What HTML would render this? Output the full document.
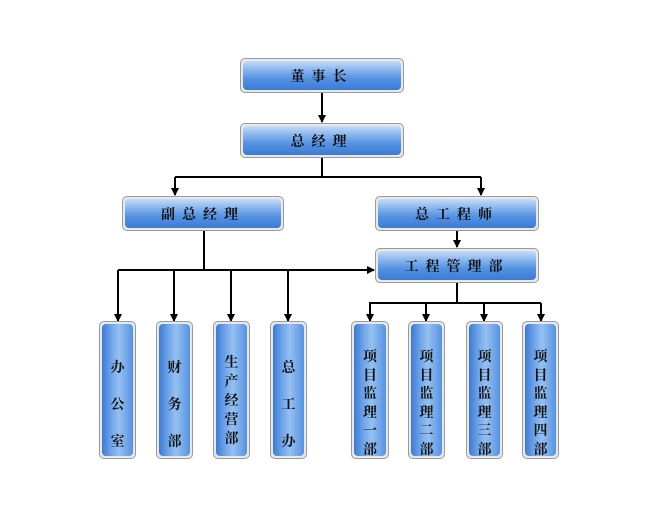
<!DOCTYPE html>
<html><head><meta charset="utf-8"><style>
body{margin:0;width:653px;height:521px;background:#fff;position:relative;overflow:hidden;font-family:"Liberation Serif","Noto Serif CJK SC",serif}
.b{position:absolute;box-sizing:border-box;border:1px solid #9a9a9a;border-radius:5px;background:#e8e8e8;padding:2px}
.b>div{width:100%;height:100%;border-radius:4px;background:linear-gradient(#c4dcf6 0%,#8ab7ee 30%,#5592e2 60%,#3a7bd6 100%);display:flex;align-items:center;justify-content:center;font-weight:bold;color:#111;font-size:14px;letter-spacing:7px;box-sizing:border-box}
.v>div{flex-direction:column;letter-spacing:0;background:linear-gradient(90deg,#3a7bd6 0%,#78abeb 35%,#95c0f1 55%,#5592e2 100%);justify-content:flex-start;font-size:14px;line-height:18.5px}
svg{position:absolute;left:0;top:0}
</style></head><body>
<svg width="653" height="521">
<defs><marker id="a" markerUnits="userSpaceOnUse" markerWidth="8" markerHeight="8" refX="7" refY="4" orient="auto"><path d="M0,0L8,4L0,8z" fill="#000"/></marker></defs>
<g stroke="#000" stroke-width="2" fill="none">
<line x1="322" y1="92" x2="322" y2="122" marker-end="url(#a)"/>
<polyline points="322,157 322,177"/>
<line x1="175" y1="177" x2="481" y2="177"/>
<line x1="175" y1="177" x2="175" y2="195" marker-end="url(#a)"/>
<line x1="481" y1="177" x2="481" y2="195" marker-end="url(#a)"/>
<line x1="457" y1="230" x2="457" y2="247" marker-end="url(#a)"/>
<line x1="204" y1="230" x2="204" y2="270"/>
<line x1="118" y1="270" x2="374" y2="270" marker-end="url(#a)"/>
<line x1="118" y1="270" x2="118" y2="321" marker-end="url(#a)"/>
<line x1="174" y1="270" x2="174" y2="321" marker-end="url(#a)"/>
<line x1="231" y1="270" x2="231" y2="321" marker-end="url(#a)"/>
<line x1="288" y1="270" x2="288" y2="321" marker-end="url(#a)"/>
<line x1="457" y1="282" x2="457" y2="303"/>
<line x1="369" y1="303" x2="541" y2="303"/>
<line x1="370" y1="303" x2="370" y2="321" marker-end="url(#a)"/>
<line x1="426" y1="303" x2="426" y2="321" marker-end="url(#a)"/>
<line x1="484" y1="303" x2="484" y2="321" marker-end="url(#a)"/>
<line x1="541" y1="303" x2="541" y2="321" marker-end="url(#a)"/>
</g></svg>
<div class="b" style="left:240px;top:58px;width:164px;height:35px"><div>董事长</div></div>
<div class="b" style="left:240px;top:123px;width:164px;height:35px"><div>总经理</div></div>
<div class="b" style="left:122px;top:196px;width:162px;height:35px"><div>副总经理</div></div>
<div class="b" style="left:375px;top:196px;width:164px;height:35px"><div>总工程师</div></div>
<div class="b" style="left:375px;top:248px;width:164px;height:35px"><div>工程管理部</div></div>
<div class="b v" style="left:99px;top:321px;width:37px;height:138px"><div style="padding-top:26px;line-height:37px">办<br>公<br>室</div></div>
<div class="b v" style="left:156px;top:321px;width:37px;height:138px"><div style="padding-top:26px;line-height:37px">财<br>务<br>部</div></div>
<div class="b v" style="left:213px;top:321px;width:37px;height:138px"><div style="padding-top:30px;line-height:19px">生<br>产<br>经<br>营<br>部</div></div>
<div class="b v" style="left:270px;top:321px;width:37px;height:138px"><div style="padding-top:26px;line-height:37px">总<br>工<br>办</div></div>
<div class="b v" style="left:351px;top:321px;width:38px;height:138px"><div style="padding-top:25px">项<br>目<br>监<br>理<br>一<br>部</div></div>
<div class="b v" style="left:408px;top:321px;width:37px;height:138px"><div style="padding-top:25px">项<br>目<br>监<br>理<br>二<br>部</div></div>
<div class="b v" style="left:466px;top:321px;width:37px;height:138px"><div style="padding-top:25px">项<br>目<br>监<br>理<br>三<br>部</div></div>
<div class="b v" style="left:522px;top:321px;width:37px;height:138px"><div style="padding-top:25px">项<br>目<br>监<br>理<br>四<br>部</div></div>
</body></html>
